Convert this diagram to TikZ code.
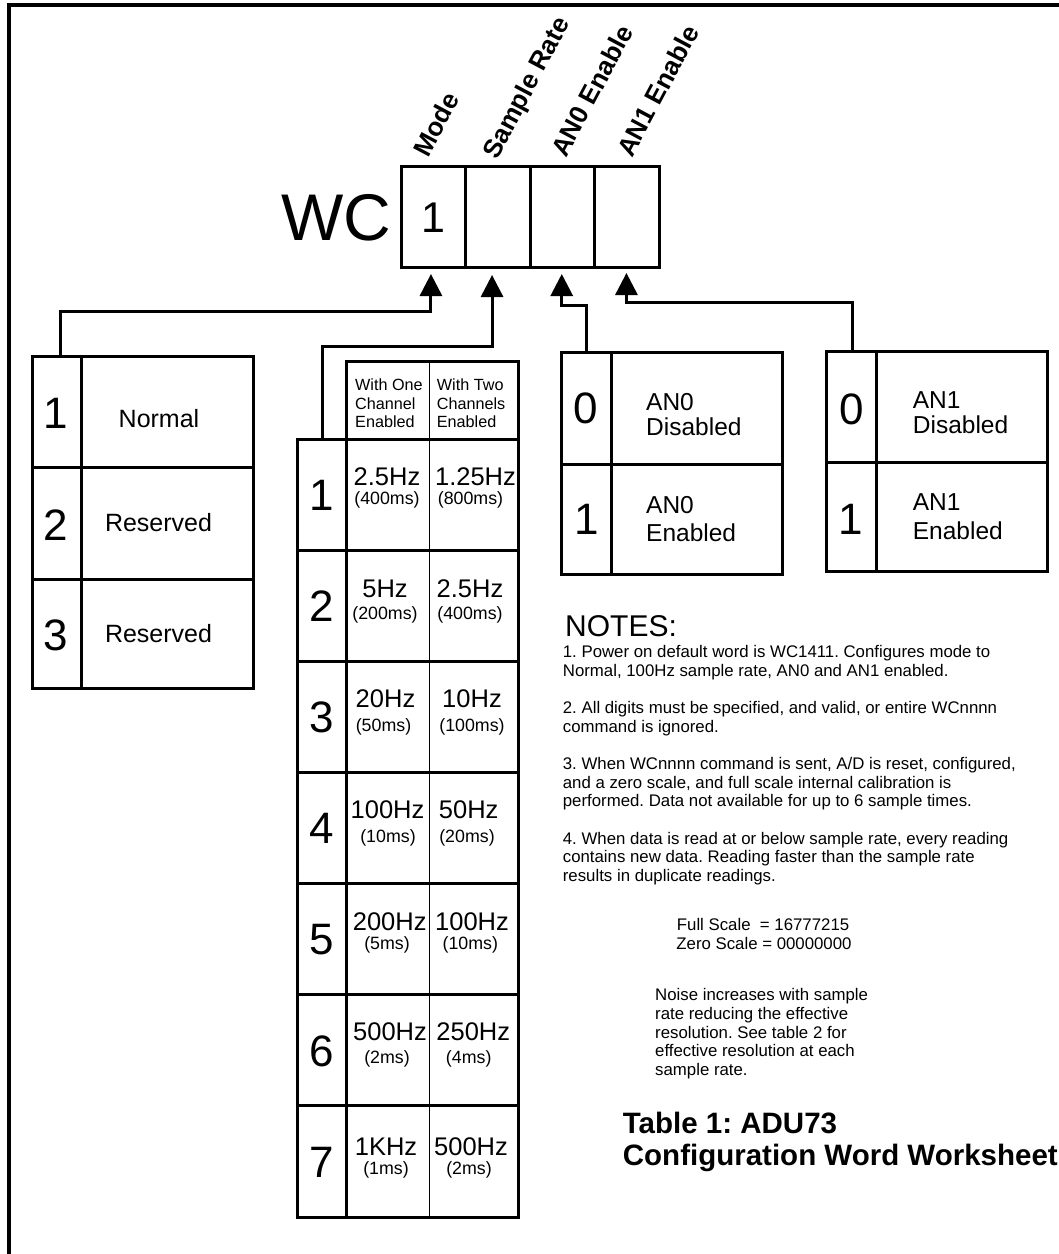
\documentclass[tikz,border=0pt]{standalone}
\usepackage{fontspec}
\setmainfont{Liberation Sans}
\usetikzlibrary{arrows.meta}
\newcommand\myfs[2]{\fontsize{#1}{#2}\selectfont}
\frenchspacing
\begin{document}
\frenchspacing
\begin{tikzpicture}[x=1pt,y=-1pt,
  thickln/.style={line width=3pt},
  thinln/.style={line width=1.6pt},
  conn/.style={line width=3pt,-{Triangle[width=22pt,length=22pt]}},
  tbl/.style={draw,line width=3pt,inner sep=0pt,outer sep=0pt,anchor=north west},
  lbl/.style={inner sep=0pt,anchor=base},
  lbll/.style={inner sep=0pt,anchor=base west},
  digit/.style={lbl,font=\myfs{44}{48}},
  midtxt/.style={lbl,font=\myfs{25}{28}},
  antxt/.style={lbll,font=\myfs{24.5}{26}},
  hzbig/.style={lbl,font=\myfs{25.5}{28}},
  hzsmall/.style={lbl,font=\myfs{17.8}{20}},
  hdr/.style={lbll,font=\myfs{16.2}{18.3}},
  note/.style={lbll,font=\myfs{16.8}{18.7}},
  rot/.style={inner sep=0pt,anchor=base west,rotate=62,font=\bfseries\myfs{26}{28}},
]
\useasboundingbox (0,0) rectangle (1059,1254);
% frame
\draw[line width=3.5pt] (9,1254) -- (9,5) -- (1059,5);

% configuration word cells
\node[tbl,minimum width=64.5pt,minimum height=101pt] (c1) at (401,166) {};
\node[tbl,minimum width=64.5pt,minimum height=101pt] (c2) at (465.5,166) {};
\node[tbl,minimum width=64.5pt,minimum height=101pt] (c3) at (530,166) {};
\node[tbl,minimum width=64.5pt,minimum height=101pt] (c4) at (594.5,166) {};
\node[lbl,font=\myfs{43}{48}] (v1) at (433,232.6) {1};
\node[lbl,anchor=base east,font=\myfs{66}{70}] (wc) at (391.5,240) {WC};

% rotated labels
\node[rot] (lmode) at (428,159) {Mode};
\node[rot] (lrate) at (497,161) {Sample Rate};
\node[rot] (lan0) at (566,159) {AN0 Enable};
\node[rot] (lan1) at (632,159) {AN1 Enable};

% mode table
\node[tbl,minimum width=221pt,minimum height=331.6pt] (modeT) at (32.3,356.7) {};
\draw[thickln] (81.7,356.7) -- (81.7,688.3);
\draw[thickln] (32.3,467.3) -- (253.3,467.3);
\draw[thickln] (32.3,579) -- (253.3,579);
\node[digit] (md1) at (56,428.3) {1};
\node[digit] (md2) at (56,540) {2};
\node[digit] (md3) at (56,650) {3};
\node[midtxt] (mt1) at (159,427.3) {Normal};
\node[midtxt] (mt2) at (158.5,531.7) {Reserved};
\node[midtxt] (mt3) at (158.5,642.7) {Reserved};

% sample rate table
\node[tbl,minimum width=172.3pt,minimum height=77.6pt] (rateH) at (346,361.7) {};
\node[tbl,minimum width=221pt,minimum height=777.7pt] (rateB) at (297.3,439.3) {};
\draw[thickln] (346,439.3) -- (346,1217);
\draw[thinln] (429.3,361.7) -- (429.3,1217);
\foreach \k in {1,...,6}{
  \draw[thickln] (297.3,439.3+111.1*\k) -- (518.3,439.3+111.1*\k);
}
\node[hdr] (h1a) at (355,390) {With One};
\node[hdr] (h1b) at (355,409) {Channel};
\node[hdr] (h1c) at (355,427.3) {Enabled};
\node[hdr] (h2a) at (436.7,390) {With Two};
\node[hdr] (h2b) at (436.7,409) {Channels};
\node[hdr] (h2c) at (436.7,427.3) {Enabled};

\node[digit] (rd1) at (321.7,439.3+55.55+15.7) {1};
\node[digit] (rd2) at (321.7,439.3+166.65+15.7) {2};
\node[digit] (rd3) at (321.7,439.3+277.75+15.7) {3};
\node[digit] (rd4) at (321.7,439.3+388.85+15.7) {4};
\node[digit] (rd5) at (321.7,439.3+499.95+15.7) {5};
\node[digit] (rd6) at (321.7,439.3+611.05+15.7) {6};
\node[digit] (rd7) at (321.7,439.3+722.15+15.7) {7};

\node[hzbig] (a1) at (387,485.2) {2.5Hz};
\node[hzsmall] (a1s) at (387,504.4) {(400ms)};
\node[hzbig] (b1) at (475.5,485.2) {1.25Hz};
\node[hzsmall] (b1s) at (470.5,504.4) {(800ms)};

\node[hzbig] (a2) at (385,597.4) {5Hz};
\node[hzsmall] (a2s) at (385,619.7) {(200ms)};
\node[hzbig] (b2) at (470,597.4) {2.5Hz};
\node[hzsmall] (b2s) at (470,619.7) {(400ms)};

\node[hzbig] (a3) at (385.5,707.4) {20Hz};
\node[hzsmall] (a3s) at (383.5,731.4) {(50ms)};
\node[hzbig] (b3) at (472,707.4) {10Hz};
\node[hzsmall] (b3s) at (472,731.4) {(100ms)};

\node[hzbig] (a4) at (387.5,818.4) {100Hz};
\node[hzsmall] (a4s) at (388,842.4) {(10ms)};
\node[hzbig] (b4) at (468.7,818.4) {50Hz};
\node[hzsmall] (b4s) at (467,842.4) {(20ms)};

\node[hzbig] (a5) at (389.7,930.8) {200Hz};
\node[hzsmall] (a5s) at (387,949.7) {(5ms)};
\node[hzbig] (b5) at (472,930.8) {100Hz};
\node[hzsmall] (b5s) at (470.3,949.7) {(10ms)};

\node[hzbig] (a6) at (390,1040.8) {500Hz};
\node[hzsmall] (a6s) at (387,1063.1) {(2ms)};
\node[hzbig] (b6) at (473.3,1040.8) {250Hz};
\node[hzsmall] (b6s) at (468.7,1063.1) {(4ms)};

\node[hzbig] (a7) at (386,1155) {1KHz};
\node[hzsmall] (a7s) at (386,1174.4) {(1ms)};
\node[hzbig] (b7) at (471,1155) {500Hz};
\node[hzsmall] (b7s) at (469,1174.4) {(2ms)};

% AN0 table
\node[tbl,minimum width=220.6pt,minimum height=221.6pt] (an0T) at (561.7,352.7) {};
\draw[thickln] (611.7,352.7) -- (611.7,574.3);
\draw[thickln] (561.7,464) -- (782.3,464);
\node[digit] (z0) at (585.5,423.7) {0};
\node[digit] (z1) at (586.5,534.7) {1};
\node[antxt] (z0a) at (646,410.7) {AN0};
\node[antxt] (z0b) at (646,435) {Disabled};
\node[antxt] (z1a) at (646,513.3) {AN0};
\node[antxt] (z1b) at (646,541.7) {Enabled};

% AN1 table
\node[tbl,minimum width=221pt,minimum height=219.3pt] (an1T) at (826.7,351.7) {};
\draw[thickln] (876.7,351.7) -- (876.7,571);
\draw[thickln] (826.7,462.7) -- (1047.7,462.7);
\node[digit] (y0) at (851.7,424) {0};
\node[digit] (y1) at (850.5,534) {1};
\node[antxt] (y0a) at (912.7,408) {AN1};
\node[antxt] (y0b) at (912.7,433.5) {Disabled};
\node[antxt] (y1a) at (912.7,510.5) {AN1};
\node[antxt] (y1b) at (912.7,539.3) {Enabled};

% connectors
\coordinate (m0) at (60,356.7);
\coordinate (r0) at (322.7,439.3);
\coordinate (p0) at (586.7,352.7);
\coordinate (q0) at (852.7,351.7);
\draw[conn] (m0) -- ++(0,-45) -| ([xshift=-2.3pt,yshift=-7pt]c1.south);
\draw[conn] (r0) -- ++(0,-92.6) -| ([xshift=-5.7pt,yshift=-8pt]c2.south);
\draw[conn] (p0) -- ++(0,-47.7) -| ([xshift=-0.5pt,yshift=-7pt]c3.south);
\draw[conn] (q0) -- ++(0,-49) -| ([xshift=-0.3pt,yshift=-6pt]c4.south);

% notes
\node[lbll,font=\myfs{30}{32}] (notes) at (565,636) {NOTES:};
\node[note] (n1) at (562.7,657.3) {1. Power on default word is WC1411. Configures mode to};
\node[note] (n2) at (562.7,676) {Normal, 100Hz sample rate, AN0 and AN1 enabled.};
\node[note] (n3) at (562.7,713.3) {2. All digits must be specified, and valid, or entire WCnnnn};
\node[note] (n4) at (562.7,732) {command is ignored.};
\node[note] (n5) at (562.7,769.3) {3. When WCnnnn command is sent, A/D is reset, configured,};
\node[note] (n6) at (562.7,788) {and a zero scale, and full scale internal calibration is};
\node[note] (n7) at (562.7,806.7) {performed. Data not available for up to 6 sample times.};
\node[note] (n8) at (562.7,844) {4. When data is read at or below sample rate, every reading};
\node[note] (n9) at (562.7,862.7) {contains new data. Reading faster than the sample rate};
\node[note] (n10) at (562.7,881.3) {results in duplicate readings.};

\node[note] (fs) at (676.7,930.7) {Full Scale\ \ = 16777215};
\node[note] (zs) at (676.2,949.3) {Zero Scale = 00000000};

\node[note] (k1) at (655,1000.7) {Noise increases with sample};
\node[note] (k2) at (655,1019.3) {rate reducing the effective};
\node[note] (k3) at (655,1038) {resolution. See table 2 for};
\node[note] (k4) at (655,1056.7) {effective resolution at each};
\node[note] (k5) at (655,1075.3) {sample rate.};

\node[lbll,font=\bfseries\myfs{29.5}{32}] (t1) at (622.7,1133.3) {Table 1: ADU73};
\node[lbll,font=\bfseries\myfs{29.5}{32}] (t2) at (622.7,1165) {Configuration Word Worksheet};
\end{tikzpicture}
\end{document}
